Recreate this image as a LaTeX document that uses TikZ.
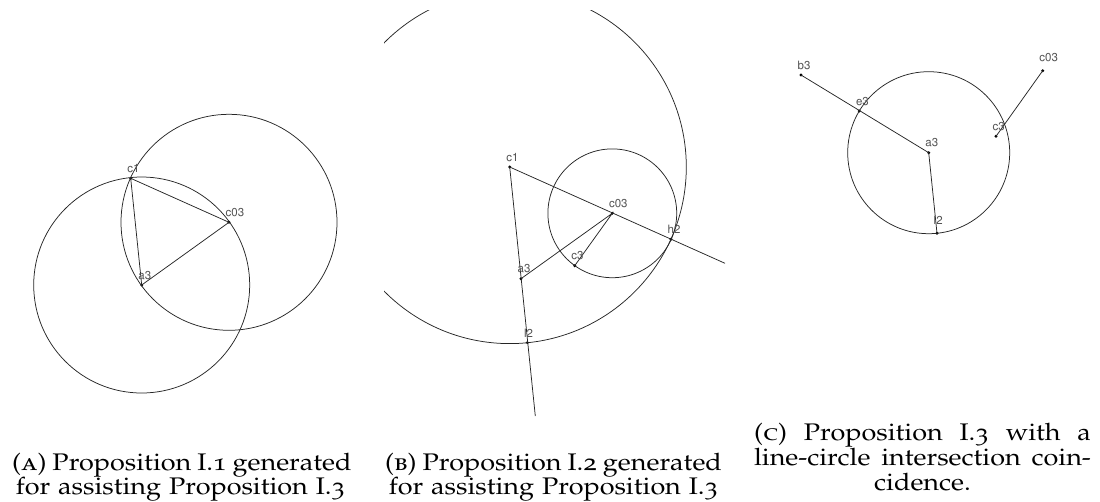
\documentclass[tikz,border=0pt]{standalone}
\usepackage[T1]{fontenc}
\usepackage[sc,osf]{mathpazo}
\usepackage[scaled=0.92]{helvet}
\usepackage{graphicx}
\newcommand{\capline}[2][0pt]{\scalebox{1.125}[1]{\ifdim#1>0pt\makebox[#1][s]{#2}\else#2\fi}}
\begin{document}
\begin{tikzpicture}[x=1pt,y=-1pt,
  geo/.style={line width=0.75pt, draw=black!85},
  ptdot/.style={circle, fill=black, inner sep=0pt, minimum size=3.2pt},
  lab/.style={anchor=south west, inner sep=0pt, xshift=-3.5pt, yshift=5.5pt,
    font=\sffamily\fontsize{12.5}{12.5}\selectfont, text=black!68},
  captext/.style={anchor=base, inner sep=0pt, text height=16pt, text depth=5pt,
    font=\fontsize{24}{24}\selectfont}
]
\useasboundingbox (0,0) rectangle (1100,501);

% ---------- Panel A ----------
\node[ptdot] (c1A)  at (130.7,178.3) {};
\node[ptdot] (c03A) at (229,222.3) {};
\node[ptdot] (a3A)  at (141.7,285) {};
\draw[geo] (a3A.center) circle[radius=108];
\draw[geo] (c03A.center) circle[radius=108];
\draw[geo] (c1A.center) -- (c03A.center) -- (a3A.center) -- (c1A.center);
\node[lab] (lc1A)  at (c1A)  {c1};
\node[lab] (lc03A) at (c03A) {c03};
\node[lab] (la3A)  at (a3A)  {a3};

% ---------- Panel B ----------
\node[ptdot] (c1B)  at (509.7,167) {};
\node[ptdot] (c03B) at (612.3,213.3) {};
\node[ptdot] (h2B)  at (671,239.3) {};
\node[ptdot] (c3B)  at (574.7,265.7) {};
\node[ptdot] (a3B)  at (521,278.7) {};
\node[ptdot] (l2B)  at (527.3,342.7) {};
\coordinate (endhB) at (725,263.3);
\coordinate (endlB) at (535.3,416);
\begin{scope}
  \clip (384,10) rectangle (760,501);
  \draw[geo] (c1B.center) circle[radius=176.6];
\end{scope}
\draw[geo] (c03B.center) circle[radius=64.4];
\draw[geo] (c1B.center) -- (endhB);
\draw[geo] (c1B.center) -- (endlB);
\draw[geo] (a3B.center) -- (c03B.center) -- (c3B.center);
\node[lab] (lc1B)  at (c1B)  {c1};
\node[lab] (lc03B) at (c03B) {c03};
\node[lab] (lh2B)  at (h2B)  {h2};
\node[lab] (lc3B)  at (c3B)  {c3};
\node[lab] (la3B)  at (a3B)  {a3};
\node[lab] (ll2B)  at (l2B)  {l2};

% ---------- Panel C ----------
\node[ptdot] (b3C)  at (801,75) {};
\node[ptdot] (e3C)  at (859.3,111) {};
\node[ptdot] (a3C)  at (928.7,152.7) {};
\node[ptdot] (c3C)  at (996,136.3) {};
\node[ptdot] (c03C) at (1042.7,70.7) {};
\node[ptdot] (l2C)  at (937,233.3) {};
\draw[geo] (a3C.center) circle[radius=81];
\draw[geo] (b3C.center) -- (a3C.center) -- (l2C.center);
\draw[geo] (c03C.center) -- (c3C.center);
\node[lab] (lb3C)  at (b3C)  {b3};
\node[lab] (le3C)  at (e3C)  {e3};
\node[lab] (la3C)  at (a3C)  {a3};
\node[lab] (lc3C)  at (c3C)  {c3};
\node[lab,yshift=3pt] (lc03C) at (c03C) {c03};
\node[lab,yshift=3pt] (ll2C)  at (l2C)  {l2};

% ---------- Captions ----------
\node[captext] (capA1) at (180.5,470) {\capline[299.5pt]{\textsc{(a)} Proposition I.1 generated}};
\node[captext] (capA2) at (180.5,494) {\capline{for assisting Proposition I.3}};
\node[captext] (capB1) at (553.5,470) {\capline[299.5pt]{\textsc{(b)} Proposition I.2 generated}};
\node[captext] (capB2) at (553.5,494) {\capline{for assisting Proposition I.3}};
\node[captext] (capC1) at (922.5,440) {\capline[299.5pt]{\textsc{(c)} Proposition I.3 with a}};
\node[captext] (capC2) at (922.5,465) {\capline[299.5pt]{line-circle intersection coin-}};
\node[captext] (capC3) at (922.5,490) {\capline{cidence.}};
\end{tikzpicture}
\end{document}
